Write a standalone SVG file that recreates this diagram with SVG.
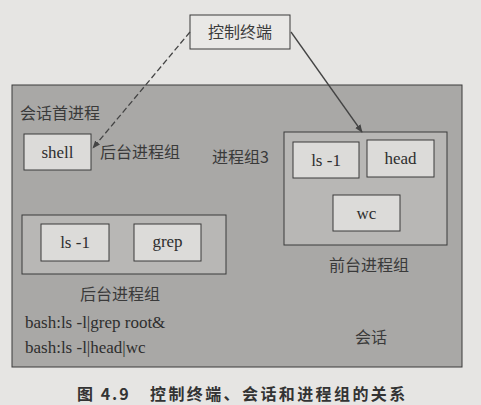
<svg xmlns="http://www.w3.org/2000/svg" width="481" height="405" viewBox="0 0 481 405">
<style>
.zh{font-family:"Noto Sans CJK SC","Noto Sans",sans-serif;font-size:16px;fill:#3a3a3a}
.en{font-family:"Liberation Serif","Times New Roman",serif;font-size:17px;fill:#2e2e2e}
.box{fill:#dcdbd9;stroke:#3a3a3a;stroke-width:1}
.grp{fill:#b8b7b5;stroke:#3a3a3a;stroke-width:1}
.ln{stroke:#444;stroke-width:1.3;fill:none}
.cap{font-family:"Noto Sans CJK SC",sans-serif;font-size:16px;font-weight:bold;fill:#333}
</style>
<defs>
<marker id="ah" viewBox="0 0 10 10" refX="9" refY="5" markerWidth="8" markerHeight="8" orient="auto" markerUnits="userSpaceOnUse">
<path d="M0,1 L10,5 L0,9 z" fill="#444"/>
</marker>
</defs>
<rect x="0" y="0" width="481" height="405" fill="#e6e5e3"/>
<g id="session">
<rect x="12" y="85" width="450" height="282" fill="#a9a8a6" stroke="#3a3a3a" stroke-width="1"/>
<text class="zh" x="20" y="119">会话首进程</text>
<text class="zh" x="355" y="343">会话</text>
</g>
<g id="terminal">
<rect x="190" y="15" width="100" height="34" fill="#e9e8e6" stroke="#3a3a3a" stroke-width="1"/>
<text class="zh" x="240" y="38" text-anchor="middle">控制终端</text>
</g>
<g id="shell">
<rect class="box" x="24" y="134" width="67" height="36"/>
<text class="en" x="57.5" y="158" text-anchor="middle">shell</text>
<text class="zh" x="100" y="158">后台进程组</text>
</g>
<g id="pg3">
<text class="zh" x="212" y="163">进程组3</text>
</g>
<g id="fg">
<rect class="grp" x="284" y="132" width="163" height="113"/>
<text class="zh" x="329" y="271">前台进程组</text>
</g>
<g id="fg-ls">
<rect class="box" x="293" y="142" width="66" height="36"/>
<text class="en" x="326" y="166" text-anchor="middle">ls -1</text>
</g>
<g id="fg-head">
<rect class="box" x="367" y="140" width="67" height="37"/>
<text class="en" x="400.5" y="164" text-anchor="middle">head</text>
</g>
<g id="fg-wc">
<rect class="box" x="333" y="195" width="67" height="36"/>
<text class="en" x="366.5" y="219" text-anchor="middle">wc</text>
</g>
<g id="bg">
<rect class="grp" x="22" y="215" width="204" height="59"/>
<text class="zh" x="80" y="300">后台进程组</text>
</g>
<g id="bg-ls">
<rect class="box" x="41" y="224" width="68" height="37"/>
<text class="en" x="75" y="248" text-anchor="middle">ls -1</text>
</g>
<g id="bg-grep">
<rect class="box" x="134" y="224" width="67" height="37"/>
<text class="en" x="167.5" y="247" text-anchor="middle">grep</text>
</g>
<g id="cmds">
<text class="en" x="25" y="328">bash:ls -l|grep root&amp;</text>
<text class="en" x="25" y="353">bash:ls -l|head|wc</text>
</g>
<g id="connectors">
<line class="ln" x1="190" y1="32" x2="93" y2="148" stroke-dasharray="6,3" marker-end="url(#ah)"/>
<line class="ln" x1="291" y1="32" x2="362" y2="132" marker-end="url(#ah)"/>
</g>
<text class="cap" x="77" y="400" style="letter-spacing:2px">图 4.9</text>
<text class="cap" x="150" y="400" style="letter-spacing:2.4px">控制终端、会话和进程组的关系</text>
</svg>
